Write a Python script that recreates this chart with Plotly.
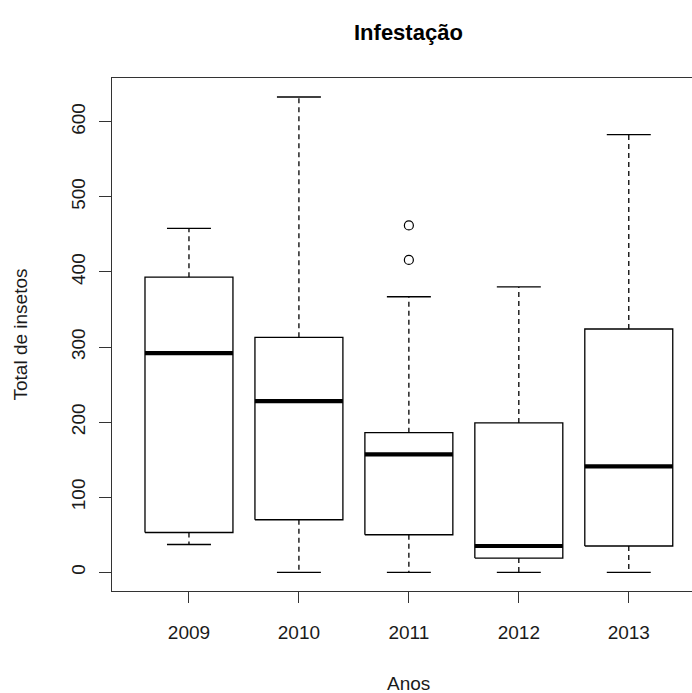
import plotly.graph_objects as go

years = ["2009", "2010", "2011", "2012", "2013"]
lower = [37, 0, 0, 0, 0]
q1 = [53, 70, 50, 19, 35]
median = [292, 228, 157, 35, 141]
q3 = [393, 313, 186, 199, 324]
upper = [458, 633, 367, 380, 583]
outlier_year = ["2011", "2011"]
outlier_val = [416, 462]

FONT = "Liberation Sans, Arial, sans-serif"
BOXW = 0.4   # half box width
CAPW = 0.2   # half cap width
LW = 1.3
TXT = "#1a1a1a"

fig = go.Figure()
pos = {y: i + 1 for i, y in enumerate(years)}

for i, yr in enumerate(years):
    x = pos[yr]
    fig.add_trace(go.Scatter(x=[x, x, None, x, x], y=[q3[i], upper[i], None, q1[i], lower[i]],
                             mode="lines", line=dict(color="black", width=LW, dash="5px,4px"),
                             hoverinfo="skip", showlegend=False))
    fig.add_trace(go.Scatter(x=[x - CAPW, x + CAPW, None, x - CAPW, x + CAPW],
                             y=[upper[i], upper[i], None, lower[i], lower[i]],
                             mode="lines", line=dict(color="black", width=LW),
                             hoverinfo="skip", showlegend=False))
    fig.add_trace(go.Scatter(x=[x - BOXW, x + BOXW, x + BOXW, x - BOXW, x - BOXW],
                             y=[q1[i], q1[i], q3[i], q3[i], q1[i]],
                             mode="lines", fill="toself", fillcolor="white",
                             line=dict(color="black", width=LW),
                             hoverinfo="skip", showlegend=False))
    fig.add_trace(go.Scatter(x=[x - BOXW, x + BOXW], y=[median[i], median[i]],
                             mode="lines", line=dict(color="black", width=4.2),
                             hoverinfo="skip", showlegend=False))

fig.add_trace(go.Scatter(x=[pos[y] for y in outlier_year], y=outlier_val, mode="markers",
                         marker=dict(symbol="circle-open", size=9, color="black", line=dict(width=1.2)),
                         hoverinfo="skip", showlegend=False))

T, B, H = 78, 102, 693
ph = H - T - B
fig.update_layout(
    width=692, height=693,
    margin=dict(l=112, r=0, t=T, b=B),
    paper_bgcolor="white", plot_bgcolor="white",
    font=dict(family=FONT, size=19, color=TXT),
    showlegend=False,
    xaxis=dict(range=[0.3, 5.575], tickmode="array", tickvals=[pos[y] for y in years], ticktext=years,
               ticks="outside", ticklen=11, tickwidth=LW, tickcolor="#333333",
               showline=True, mirror=True, linecolor="#333333", linewidth=LW,
               showgrid=False, zeroline=False, ticklabelstandoff=13),
    yaxis=dict(range=[-24.9, 658.3], tickmode="array", tickvals=[0, 100, 200, 300, 400, 500, 600],
               ticks="outside", ticklen=12, tickwidth=LW, tickcolor="#333333", tickangle=-90,
               showline=True, mirror=False, linecolor="#333333", linewidth=LW,
               showgrid=False, zeroline=False, ticklabelstandoff=6),
    annotations=[
        dict(text="<b>Infestação</b>", x=0.5116, xref="paper", y=1 + (T - 33) / ph, yref="paper",
             xanchor="center", yanchor="middle", showarrow=False,
             font=dict(size=22, family=FONT, color="black")),
        dict(text="Anos", x=0.5116, xref="paper", y=-(683 - (H - B)) / ph, yref="paper",
             xanchor="center", yanchor="middle", showarrow=False,
             font=dict(size=19, family=FONT, color=TXT)),
        dict(text="Total de insetos", x=-(112 - 20) / 580, xref="paper", y=0.5, yref="paper",
             xanchor="center", yanchor="middle", textangle=-90,
             showarrow=False, font=dict(size=19, family=FONT, color=TXT)),
    ],
)

fig.write_html("out.html")
